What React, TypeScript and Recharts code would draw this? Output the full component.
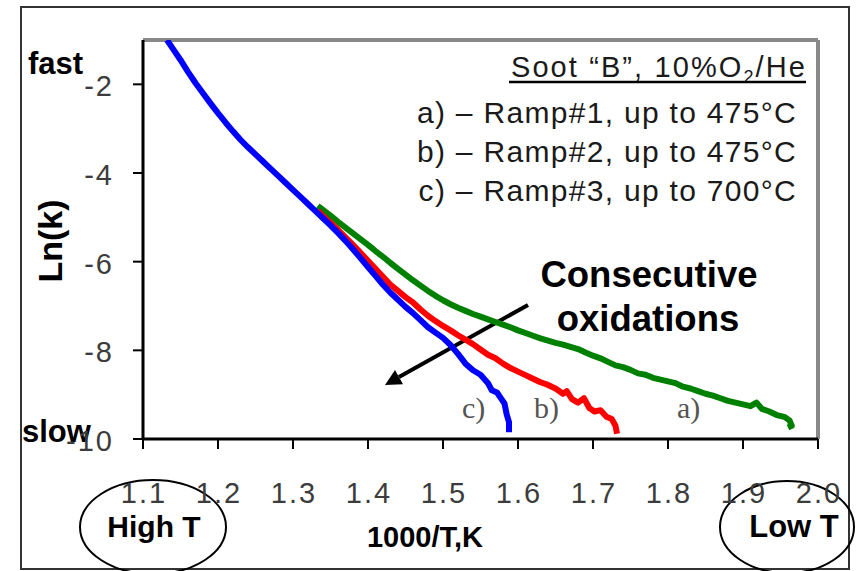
import React from "react";
import { LineChart, Line, XAxis, YAxis, ReferenceLine, Customized } from "recharts";

// 1000/T values and ln(k) values per ramp
const rampCInvT = [1.132, 1.14, 1.15, 1.16, 1.17, 1.18, 1.19, 1.2, 1.21, 1.22, 1.23, 1.24, 1.25, 1.26, 1.27, 1.28, 1.29, 1.3, 1.31, 1.32, 1.33, 1.34, 1.35, 1.36, 1.37, 1.38, 1.39, 1.4, 1.41, 1.42, 1.43, 1.44, 1.45, 1.46, 1.47, 1.48, 1.49, 1.5, 1.51, 1.52, 1.53, 1.54, 1.55, 1.56, 1.565, 1.572, 1.578, 1.582, 1.585, 1.588, 1.588];
const rampCLnK = [-1.0, -1.2, -1.45, -1.72, -1.97, -2.2, -2.43, -2.65, -2.86, -3.06, -3.25, -3.42, -3.58, -3.74, -3.9, -4.06, -4.22, -4.38, -4.54, -4.7, -4.86, -5.02, -5.18, -5.35, -5.53, -5.72, -5.92, -6.12, -6.32, -6.52, -6.7, -6.86, -7.02, -7.16, -7.32, -7.48, -7.6, -7.72, -7.88, -8.08, -8.3, -8.45, -8.55, -8.74, -8.9, -8.95, -9.1, -9.2, -9.45, -9.62, -9.85];

const rampBInvT = [1.333, 1.34, 1.35, 1.36, 1.37, 1.38, 1.39, 1.4, 1.41, 1.42, 1.43, 1.44, 1.45, 1.46, 1.47, 1.48, 1.49, 1.5, 1.51, 1.52, 1.53, 1.54, 1.55, 1.56, 1.57, 1.58, 1.59, 1.6, 1.61, 1.62, 1.63, 1.64, 1.65, 1.66, 1.665, 1.672, 1.68, 1.688, 1.695, 1.702, 1.71, 1.718, 1.725, 1.73, 1.732];
const rampBLnK = [-4.85, -4.97, -5.12, -5.28, -5.45, -5.62, -5.8, -5.98, -6.16, -6.34, -6.52, -6.66, -6.8, -6.92, -7.08, -7.22, -7.34, -7.45, -7.55, -7.66, -7.76, -7.86, -7.98, -8.1, -8.18, -8.3, -8.4, -8.48, -8.56, -8.64, -8.72, -8.78, -8.86, -8.98, -8.92, -9.1, -9.18, -9.08, -9.3, -9.38, -9.35, -9.5, -9.55, -9.7, -9.88];

const rampAInvT = [1.333, 1.34, 1.35, 1.36, 1.37, 1.38, 1.39, 1.4, 1.41, 1.42, 1.43, 1.44, 1.45, 1.46, 1.47, 1.48, 1.49, 1.5, 1.51, 1.52, 1.53, 1.54, 1.55, 1.56, 1.57, 1.58, 1.59, 1.6, 1.61, 1.62, 1.63, 1.64, 1.65, 1.66, 1.67, 1.68, 1.69, 1.7, 1.71, 1.72, 1.73, 1.74, 1.75, 1.76, 1.77, 1.78, 1.79, 1.8, 1.81, 1.82, 1.83, 1.84, 1.85, 1.86, 1.87, 1.88, 1.89, 1.9, 1.91, 1.918, 1.925, 1.935, 1.945, 1.955, 1.962, 1.965, 1.96];
const rampALnK = [-4.74, -4.83, -4.96, -5.1, -5.23, -5.36, -5.49, -5.62, -5.76, -5.89, -6.03, -6.16, -6.29, -6.42, -6.54, -6.66, -6.77, -6.87, -6.96, -7.04, -7.11, -7.18, -7.24, -7.3, -7.36, -7.42, -7.48, -7.55, -7.61, -7.67, -7.73, -7.78, -7.83, -7.87, -7.92, -7.97, -8.05, -8.12, -8.18, -8.26, -8.34, -8.38, -8.44, -8.52, -8.55, -8.62, -8.66, -8.7, -8.74, -8.82, -8.86, -8.92, -8.98, -9.02, -9.08, -9.14, -9.18, -9.22, -9.26, -9.18, -9.32, -9.38, -9.46, -9.5, -9.58, -9.7, -9.74];

const xTicks = [1.1, 1.2, 1.3, 1.4, 1.5, 1.6, 1.7, 1.8, 1.9, 2.0];
const yTicks = [-2, -4, -6, -8, -10];

const legendTitle = "Soot \u201CB\u201D, 10%O";
const legendLines = [
  "a) \u2013 Ramp#1, up to 475\u00B0C",
  "b) \u2013 Ramp#2, up to 475\u00B0C",
  "c) \u2013 Ramp#3, up to 700\u00B0C",
];
const curveTags = ["c)", "b)", "a)"];

const toPoints = (xs: number[], ys: number[]) => xs.map((x, i) => ({ x, y: ys[i] }));

const FONT = "'Liberation Sans', Arial, Helvetica, sans-serif";

const XTick = (props: any) => {
  const { x, y, payload } = props;
  return (
    <text x={x + 1} y={y + 21} textAnchor="middle" fontFamily={FONT} fontSize={29} letterSpacing={2} fill="#3c3c3c">
      {Number(payload.value).toFixed(1)}
    </text>
  );
};

const YTick = (props: any) => {
  const { x, y, payload } = props;
  return (
    <text x={x + 2} y={y + 12} textAnchor="end" fontFamily={FONT} fontSize={29} letterSpacing={2} fill="#3c3c3c">
      {payload.value}
    </text>
  );
};

const Annotations = () => (
  <g>
    <rect x={21} y={7} width={828} height={562} fill="none" stroke="#333" strokeWidth={2} />
    <text x={28} y={74} fontFamily={FONT} fontWeight="bold" fontSize={31} fill="#000">fast</text>
    <text x={22} y={442} fontFamily={FONT} fontWeight="bold" fontSize={31} fill="#000">slow</text>
    <text x={62} y={241} transform="rotate(-90, 62, 241)" textAnchor="middle" fontFamily={FONT} fontWeight="bold" fontSize={34} fill="#000">Ln(k)</text>
    <text x={425} y={547} textAnchor="middle" fontFamily={FONT} fontWeight="bold" fontSize={29} fill="#000">1000/T,K</text>
    <ellipse cx={153} cy={527} rx={73} ry={47} fill="none" stroke="#000" strokeWidth={2} />
    <text x={154} y={537} textAnchor="middle" fontFamily={FONT} fontWeight="bold" fontSize={30} fill="#000">High T</text>
    <ellipse cx={787} cy={527} rx={67} ry={46} fill="none" stroke="#000" strokeWidth={2} />
    <text x={794} y={537} textAnchor="middle" fontFamily={FONT} fontWeight="bold" fontSize={31} fill="#000">Low T</text>
    <text x={807} y={77} textAnchor="end" fontFamily={FONT} fontSize={29} fill="#1a1a1a" letterSpacing={2.1}>
      {legendTitle}
      <tspan fontSize={18} dy={6}>2</tspan>
      <tspan dy={-6}>/He</tspan>
    </text>
    <line x1={509} y1={82} x2={806} y2={82} stroke="#000" strokeWidth={2.5} />
    {legendLines.map((t, i) => (
      <text key={t} x={797} y={123 + i * 39} textAnchor="end" fontFamily={FONT} fontSize={30} letterSpacing={1.3} fill="#1a1a1a">{t}</text>
    ))}
    <text x={649} y={287} textAnchor="middle" fontFamily={FONT} fontWeight="bold" fontSize={36.5} fill="#000">Consecutive</text>
    <text x={648} y={331} textAnchor="middle" fontFamily={FONT} fontWeight="bold" fontSize={36.5} fill="#000">oxidations</text>
    <line x1={528} y1={305} x2={399} y2={377} stroke="#000" strokeWidth={4} />
    <polygon points="385,385 403,384.2 395,370" fill="#000" />
    {curveTags.map((t, i) => (
      <text key={t} x={[462, 534, 677][i]} y={418} fontFamily="'Liberation Serif', 'Times New Roman', serif" fontSize={30} fill="#555">{t}</text>
    ))}
  </g>
);

export default function App() {
  return (
    <div style={{ position: "absolute", left: 0, top: 0, width: 856, height: 571, background: "#fff" }}>
      <LineChart width={856} height={571} margin={{ top: 40, right: 38, bottom: 0, left: 0 }}>
        <XAxis
          dataKey="x"
          type="number"
          domain={[1.1, 2.0]}
          ticks={xTicks}
          allowDataOverflow
          height={132}
          axisLine={{ stroke: "#000", strokeWidth: 3 }}
          tickLine={{ stroke: "#000", strokeWidth: 2 }}
          tickSize={10}
          tickMargin={33}
          tick={<XTick />}
          interval={0}
        />
        <YAxis
          dataKey="y"
          type="number"
          domain={[-10, -1]}
          ticks={yTicks}
          allowDataOverflow
          width={143}
          axisLine={{ stroke: "#000", strokeWidth: 3 }}
          tickLine={{ stroke: "#000", strokeWidth: 2 }}
          tickSize={10}
          tickMargin={21}
          tick={<YTick />}
          interval={0}
        />
        <ReferenceLine y={-1} stroke="#888" strokeWidth={4} />
        <ReferenceLine x={2.0} stroke="#888" strokeWidth={4} />
        <Line data={toPoints(rampAInvT, rampALnK)} dataKey="y" stroke="#008000" strokeWidth={6} dot={false} isAnimationActive={false} strokeLinejoin="round" />
        <Line data={toPoints(rampBInvT, rampBLnK)} dataKey="y" stroke="#ff0000" strokeWidth={6} dot={false} isAnimationActive={false} strokeLinejoin="round" />
        <Line data={toPoints(rampCInvT, rampCLnK)} dataKey="y" stroke="#0000ff" strokeWidth={6} dot={false} isAnimationActive={false} strokeLinejoin="round" />
        <Customized component={Annotations} />
      </LineChart>
    </div>
  );
}
